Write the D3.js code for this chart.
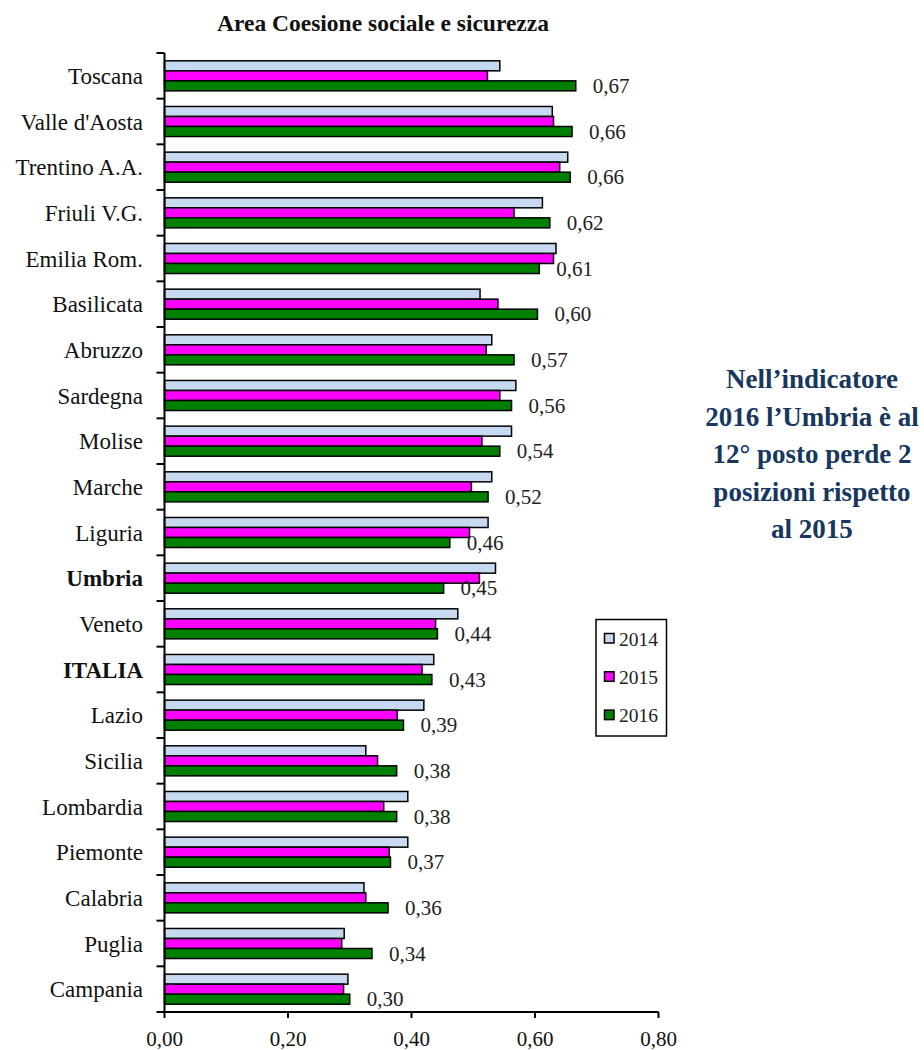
<!DOCTYPE html>
<html><head><meta charset="utf-8">
<script src="https://cdn.jsdelivr.net/npm/d3@7"></script>
<style>body{margin:0;background:#fff}svg{display:block}</style>
</head><body>
<script>
const categories = ["Toscana","Valle d'Aosta","Trentino A.A.","Friuli V.G.","Emilia Rom.","Basilicata","Abruzzo","Sardegna","Molise","Marche","Liguria","Umbria","Veneto","ITALIA","Lazio","Sicilia","Lombardia","Piemonte","Calabria","Puglia","Campania"];
const boldCategories = ["Umbria","ITALIA"];
const seriesNames = ["2014","2015","2016"];
const values2014 = [0.543,0.628,0.653,0.612,0.634,0.511,0.530,0.569,0.562,0.530,0.524,0.536,0.475,0.436,0.420,0.326,0.394,0.394,0.323,0.291,0.297];
const values2015 = [0.523,0.630,0.640,0.566,0.630,0.540,0.521,0.543,0.514,0.497,0.494,0.510,0.439,0.417,0.377,0.345,0.355,0.364,0.326,0.287,0.290];
const values2016 = [0.666,0.660,0.657,0.624,0.607,0.604,0.566,0.562,0.543,0.524,0.462,0.452,0.442,0.433,0.387,0.376,0.376,0.366,0.362,0.336,0.300];
const xTicks = [0,0.2,0.4,0.6,0.8];
const title = "Area Coesione sociale e sicurezza";
const noteLines = ["Nell\u2019indicatore","2016 l\u2019Umbria è al","12° posto perde 2","posizioni rispetto","al 2015"];
const colors = ["#C6D9F1","#FF00FF","#008000"];

const W=924,H=1050;
const svg=d3.select("body").append("svg").attr("width",W).attr("height",H);
const font="'Liberation Serif', 'Times New Roman', serif";

const x=d3.scaleLinear().domain([0,0.8]).range([164.5,658.5]);
const y=d3.scaleBand().domain(categories).range([53,1012]).padding(0);
const ys=d3.scaleBand().domain(seriesNames).range([0,y.bandwidth()]).paddingInner(0).paddingOuter(0.78);
const seriesVals=[values2014,values2015,values2016];

svg.append("text").attr("x",383).attr("y",31).attr("text-anchor","middle")
  .attr("font-family",font).attr("font-weight","bold").attr("font-size",23.5).attr("fill","#111").text(title);

// bars
seriesNames.forEach((s,si)=>{
  svg.append("g").selectAll("rect").data(categories).join("rect")
    .attr("x",x(0)).attr("y",(c)=>y(c)+ys(s))
    .attr("width",(c,i)=>x(seriesVals[si][i])-x(0))
    .attr("height",ys.bandwidth())
    .attr("fill",colors[si]).attr("stroke","#000").attr("stroke-width",1.5);
});

// value labels
svg.append("g").selectAll("text").data(categories).join("text")
  .attr("x",(c,i)=>x(values2016[i])+17)
  .attr("y",(c)=>y(c)+ys("2016")+ys.bandwidth()/2+7)
  .attr("font-family",font).attr("font-size",21).attr("fill","#222")
  .text((c,i)=>d3.format(".2f")(values2016[i]).replace(".",","));

// y axis
const yAxis=svg.append("g");
yAxis.append("line").attr("x1",x(0)).attr("x2",x(0)).attr("y1",53).attr("y2",1012).attr("stroke","#000").attr("stroke-width",2);
const bounds=categories.map(c=>y(c)).concat([1012]);
yAxis.selectAll("line.t").data(bounds).join("line").attr("class","t")
  .attr("x1",x(0)-8).attr("x2",x(0)).attr("y1",d=>d).attr("y2",d=>d).attr("stroke","#000").attr("stroke-width",2);
yAxis.selectAll("text").data(categories).join("text")
  .attr("x",143).attr("y",c=>y(c)+y.bandwidth()/2+8)
  .attr("text-anchor","end").attr("font-family",font).attr("font-size",23)
  .attr("font-weight",c=>boldCategories.includes(c)?"bold":"normal")
  .attr("fill","#111").text(c=>c);

// x axis
const xAxis=svg.append("g");
xAxis.append("line").attr("x1",x(0)-1).attr("x2",x(0.8)).attr("y1",1012).attr("y2",1012).attr("stroke","#000").attr("stroke-width",2);
xAxis.selectAll("line.t").data(xTicks).join("line").attr("class","t")
  .attr("x1",d=>x(d)).attr("x2",d=>x(d)).attr("y1",1012).attr("y2",1018).attr("stroke","#000").attr("stroke-width",2);
xAxis.selectAll("text").data(xTicks).join("text")
  .attr("x",d=>x(d)).attr("y",1046).attr("text-anchor","middle")
  .attr("font-family",font).attr("font-size",21).attr("fill","#111")
  .text(d=>d3.format(".2f")(d).replace(".",","));

// legend
const lg=svg.append("g");
lg.append("rect").attr("x",596).attr("y",619.5).attr("width",70.5).attr("height",116.5)
  .attr("fill","#fff").attr("stroke","#000").attr("stroke-width",1.5);
seriesNames.forEach((s,i)=>{
  const cy=638.5+i*38.3;
  lg.append("rect").attr("x",604.5).attr("y",cy-5).attr("width",9.5).attr("height",9.5)
    .attr("fill",colors[i]).attr("stroke","#000").attr("stroke-width",1.5);
  lg.append("text").attr("x",619).attr("y",cy+7).attr("font-family",font).attr("font-size",19.5).attr("fill","#222").text(s);
});

// note
svg.append("g").selectAll("text").data(noteLines).join("text")
  .attr("x",812).attr("y",(d,i)=>388+i*37.5).attr("text-anchor","middle")
  .attr("font-family",font).attr("font-weight","bold").attr("font-size",27).attr("fill","#17375E")
  .text(d=>d);
</script>
</body></html>
